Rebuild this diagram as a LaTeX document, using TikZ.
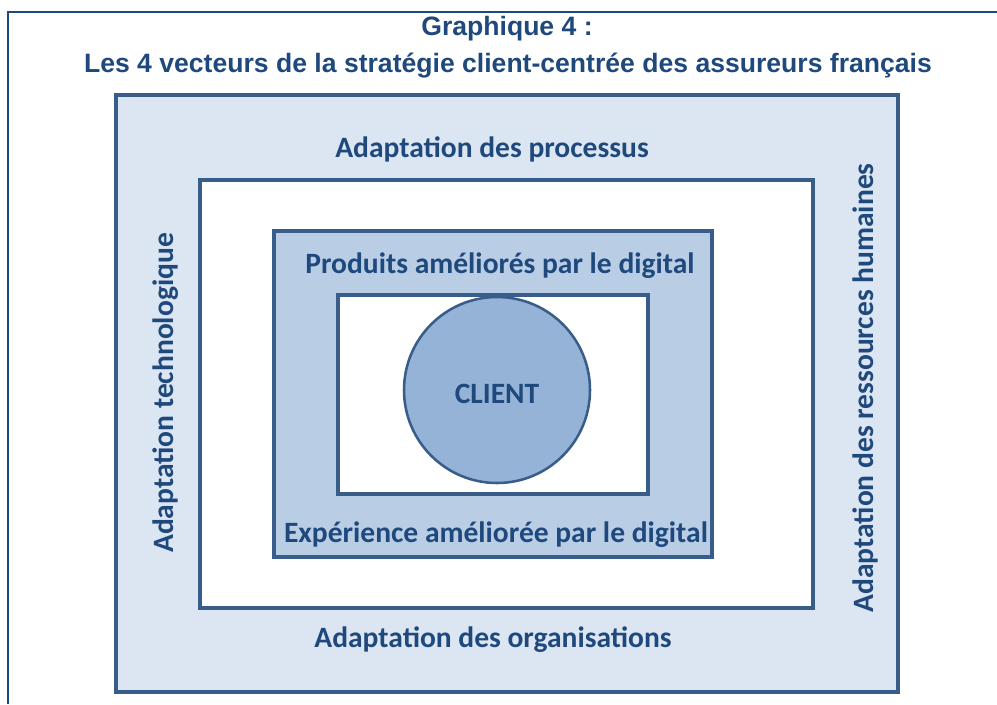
\documentclass[tikz,border=0pt]{standalone}
\usepackage{fontspec}
\setmainfont{Liberation Sans}
\newfontfamily\calibri{Carlito}
\usepackage{tikz}

\definecolor{darkblue}{HTML}{1F497D}
\definecolor{boxline}{HTML}{385D8A}
\definecolor{paleblue}{HTML}{DCE6F2}
\definecolor{midblue}{HTML}{B9CDE5}
\definecolor{clientblue}{HTML}{95B3D7}

\tikzset{
  box/.style={draw=boxline, line width=2.4pt},
  title/.style={anchor=base, text=darkblue, font=\fontsize{18.9}{22}\selectfont\bfseries, inner sep=0pt},
  label/.style={anchor=base, text=darkblue, font=\fontsize{21}{24}\selectfont\calibri\bfseries, inner sep=0pt}
}

\begin{document}
\begin{tikzpicture}[x=0.025cm, y=-0.025cm]
        \useasboundingbox (0,0) rectangle (997,704);
        \draw [darkblue, line width=1.4pt] (8,704) |- (997,12);

        % Heading
        \node [title] (head) at (507,35) {Graphique 4 :};
        \node [title] (subhead) at (508,72) {Les 4 vecteurs de la strat\'egie client-centr\'ee des assureurs fran\c{c}ais};

        % Nested boxes
        \draw [box, fill=paleblue] (116,95) rectangle (898,692);
        \draw [box, fill=white] (200,180) rectangle (813,608);
        \draw [box, fill=midblue] (274,231) rectangle (712,557);
        \draw [box, fill=white] (338,295) rectangle (648,494);

        % Client in the middle
        \node [circle, draw=boxline, line width=1.8pt, fill=clientblue, minimum size=186*0.025cm, inner sep=0pt] (client) at (497,390) {};
        \node [label] (clienttext) at (497,403) {CLIENT};

        % Outer ring
        \node [label] (processus) at (492,157) {Adaptation des processus};
        \node [label] (organisations) at (493,647) {Adaptation des organisations};
        \node [label, rotate=90] (techno) at (173,393) {Adaptation technologique};
        \node [label, rotate=90] (rh) at (873,388) {Adaptation des ressources humaines};

        % Digital ring
        \node [label] (produits) at (500,273) {Produits am\'elior\'es par le digital};
        \node [label] (experience) at (496,542) {Exp\'erience am\'elior\'ee par le digital};
\end{tikzpicture}
\end{document}
